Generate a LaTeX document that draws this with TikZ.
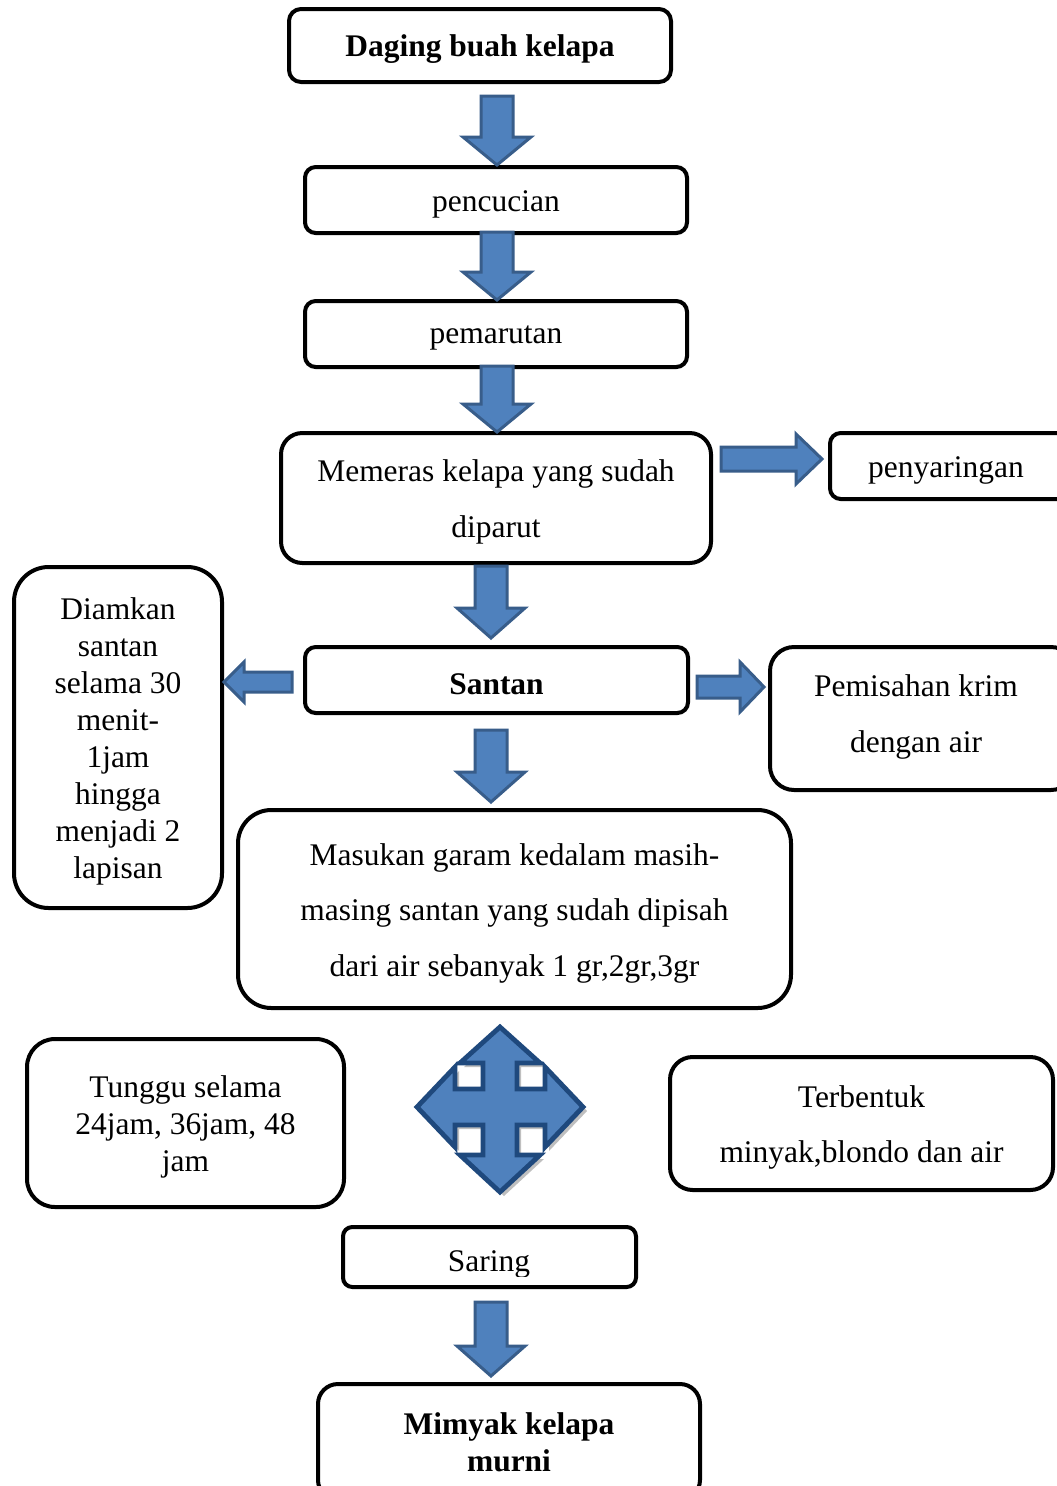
\documentclass[tikz,border=0pt]{standalone}
\usepackage{fontspec}
\setmainfont{Liberation Serif}
\definecolor{blkfill}{RGB}{79,129,189}
\definecolor{blkline}{RGB}{56,93,138}
\definecolor{blknavy}{RGB}{31,73,125}
\tikzset{
  txt/.style={inner sep=0pt, align=center, font=\fontsize{23.6}{27.8}\selectfont},
  boldtxt/.style={txt, font=\fontsize{23.6}{27.8}\selectfont\bfseries},
  dbltxt/.style={txt, font=\fontsize{23.6}{41.6}\selectfont},
  frame/.style={draw, line width=3pt, inner sep=0pt},
  blk/.style={fill=blkfill, draw=blkline, line width=2.25pt, line join=miter},
}
% box: [text style]{name}{x1}{y1}{x2}{y2}{corner radius}{text}
\newcommand\bx[8][txt]{%
  \node[frame, minimum width={(#5-#3)*0.75pt}, minimum height={(#6-#4)*0.75pt}, rounded corners=#7] (#2) at ({(#3+#5)/2},{(#4+#6)/2}) {};
  \node[#1] (#2-t) at ({(#3+#5)/2},{(#4+#6)/2+4}) {#8};}
% vertical block arrow: cx, ytop, ytip, shaft half, head half, head length
\newcommand\varrow[6]{\draw[blk] ({#1-(#4)},{#2}) -- ({#1+(#4)},{#2}) -- ({#1+(#4)},{#3-(#6)}) -- ({#1+(#5)},{#3-(#6)}) -- ({#1},{#3}) -- ({#1-(#5)},{#3-(#6)}) -- ({#1-(#4)},{#3-(#6)}) -- cycle;}
% horizontal block arrow: xtail, xtip, cy, shaft half, head half, head length (negative for leftward)
\newcommand\harrow[6]{\draw[blk] ({#1},{#3-(#4)}) -- ({#2-(#6)},{#3-(#4)}) -- ({#2-(#6)},{#3-(#5)}) -- ({#2},{#3}) -- ({#2-(#6)},{#3+(#5)}) -- ({#2-(#6)},{#3+(#4)}) -- ({#1},{#3+(#4)}) -- cycle;}
\begin{document}
\begin{tikzpicture}[x=0.75pt, y=-0.75pt]
\useasboundingbox (0,0) rectangle (1057,1486);
\fill[white] (0,0) rectangle (1057,1486);
\clip (0,0) rectangle (1057,1486);

% boxes
\bx[boldtxt]{daging}{289}{9}{671}{82}{9pt}{Daging buah kelapa}
\bx{cuci}{305}{167}{687}{233}{8pt}{pencucian}
\bx{parut}{305}{301}{687}{367}{8pt}{pemarutan}
\bx[dbltxt]{peras}{281}{433}{711}{563}{16pt}{Memeras kelapa yang sudah\\diparut}
\bx{saringan}{830}{433}{1075}{499}{8pt}{}
\node[txt] at (946,470) (saringantxt) {penyaringan};
\bx{diam}{14}{567}{222}{908}{26pt}{Diamkan\\santan\\selama 30\\menit-\\1jam\\hingga\\menjadi 2\\lapisan}
\bx[boldtxt]{santan}{305}{647}{688}{713}{8pt}{Santan}
\bx{pisah}{770}{647}{1075}{790}{18pt}{}
\node[dbltxt] at (916,717) (pisahtxt) {Pemisahan krim\\dengan air};
\bx[dbltxt]{garam}{238}{810}{791}{1008}{25pt}{Masukan garam kedalam masih-\\masing santan yang sudah dipisah\\dari air sebanyak 1 gr,2gr,3gr}
\bx{tunggu}{27}{1039}{344}{1207}{21pt}{Tunggu selama\\24jam, 36jam, 48\\jam}
\bx[dbltxt]{bentuk}{670}{1057}{1053}{1190}{17pt}{Terbentuk\\minyak,blondo dan air}
\bx{saring}{343}{1227}{636}{1287}{7pt}{}
\begin{scope}
  \clip (343,1227) rectangle (636,1276);
  \node[txt] at (489,1264) (saringtxt) {Saring};
\end{scope}
\bx{murni}{318}{1384}{700}{1500}{15pt}{}
\node[boldtxt] at (509,1442) (murnitxt) {Mimyak kelapa\\murni};

% block arrows
\varrow{497}{96}{165}{16}{34}{28}
\varrow{497}{232}{300}{16}{34}{28}
\varrow{497}{366}{432}{16}{34}{28}
\varrow{491}{566}{638}{16}{34}{30}
\varrow{491}{730}{802}{16}{34}{30}
\varrow{491}{1302}{1376}{16}{34}{30}
\harrow{721}{822}{459}{12}{25}{26}
\harrow{292}{224}{682}{10}{20}{-20}
\harrow{697}{764}{687}{11}{25}{24}

% four-way arrow
\def\fourway{(500,1027) -- (540,1063) -- (517,1063) -- (517,1089) -- (545,1089) -- (545,1067) -- (583,1107) -- (545,1147) -- (545,1125) -- (517,1125) -- (517,1155) -- (540,1155) -- (500,1192) -- (460,1155) -- (483,1155) -- (483,1125) -- (455,1125) -- (455,1147) -- (417,1107) -- (455,1067) -- (455,1089) -- (483,1089) -- (483,1063) -- (460,1063) -- cycle}
\fill[gray, opacity=0.5, shift={(4,4)}] \fourway;
\draw[fill=blkfill, draw=blknavy, line width=3.6pt, line join=miter] \fourway;
\end{tikzpicture}
\end{document}
